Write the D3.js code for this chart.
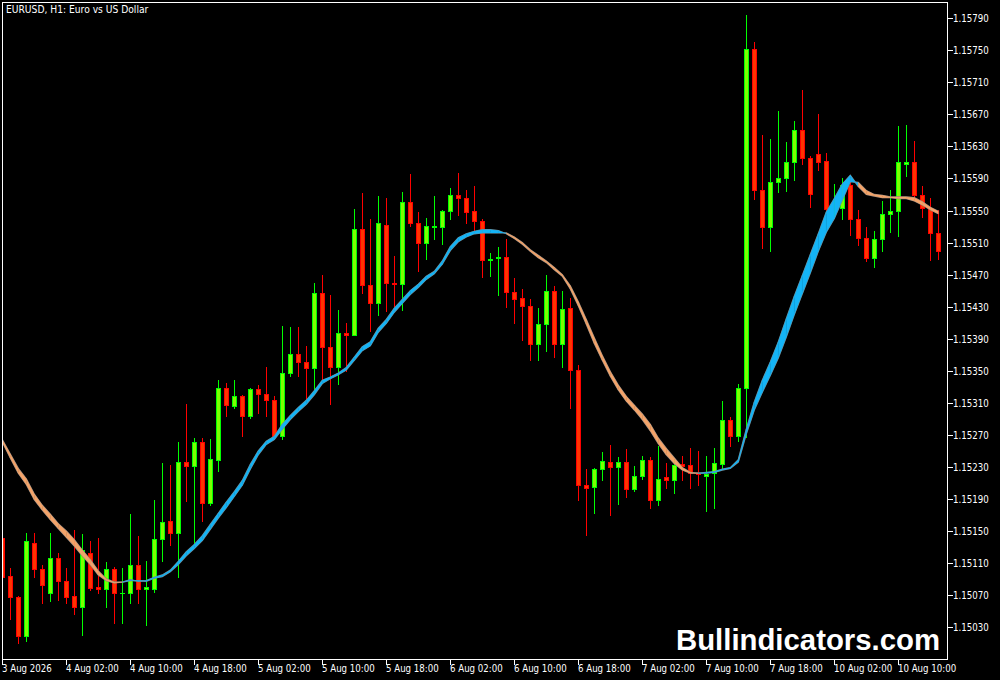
<!DOCTYPE html>
<html><head><meta charset="utf-8">
<script src="https://cdn.jsdelivr.net/npm/d3@7"></script>
<style>html,body{margin:0;padding:0;background:#000;overflow:hidden}svg{display:block}</style>
</head><body><svg id="c" width="1000" height="680"></svg>
<script>
const title = "EURUSD, H1:  Euro vs US Dollar";
const watermark = "Bullindicators.com";

const open = [1.15141,1.15094,1.15068,1.15019,1.15135,1.15102,1.15073,1.15116,1.15087,1.15069,
1.15055,1.15122,1.15080,1.15078,1.15102,1.15072,1.15073,1.15107,1.15077,1.15078,
1.15140,1.15162,1.15147,1.15236,1.15231,1.15261,1.15185,1.15239,1.15328,1.15306,
1.15318,1.15293,1.15327,1.15321,1.15313,1.15269,1.15347,1.15371,1.15361,1.15354,
1.15447,1.15380,1.15355,1.15397,1.15395,1.15527,1.15457,1.15434,1.15532,1.15460,
1.15458,1.15561,1.15534,1.15509,1.15530,1.15530,1.15550,1.15570,1.15566,1.15549,
1.15537,1.15488,1.15491,1.15492,1.15448,1.15441,1.15431,1.15383,1.15408,1.15450,
1.15383,1.15428,1.15351,1.15207,1.15205,1.15227,1.15236,1.15230,1.15236,1.15202,
1.15218,1.15238,1.15189,1.15217,1.15214,1.15233,1.15232,1.15222,1.15219,1.15222,
1.15233,1.15288,1.15268,1.15328,1.15752,1.15576,1.15529,1.15585,1.15590,1.15611,
1.15651,1.15616,1.15620,1.15612,1.15553,1.15553,1.15582,1.15540,1.15516,1.15491,
1.15515,1.15546,1.15550,1.15608,1.15610,1.15570,1.15553,1.15522];

const high = [1.15143,1.15104,1.15069,1.15147,1.15147,1.15108,1.15147,1.15122,1.15104,1.15151,
1.15146,1.15137,1.15141,1.15111,1.15105,1.15104,1.15171,1.15144,1.15112,1.15189,
1.15235,1.15232,1.15261,1.15308,1.15266,1.15266,1.15265,1.15339,1.15335,1.15339,
1.15320,1.15329,1.15332,1.15355,1.15318,1.15406,1.15405,1.15404,1.15381,1.15460,
1.15469,1.15445,1.15426,1.15410,1.15552,1.15572,1.15540,1.15568,1.15566,1.15493,
1.15573,1.15596,1.15548,1.15541,1.15568,1.15551,1.15578,1.15597,1.15576,1.15581,
1.15540,1.15497,1.15505,1.15515,1.15466,1.15452,1.15440,1.15428,1.15470,1.15456,
1.15450,1.15441,1.15357,1.15227,1.15228,1.15249,1.15257,1.15242,1.15252,1.15231,
1.15243,1.15242,1.15256,1.15235,1.15238,1.15243,1.15253,1.15250,1.15243,1.15253,
1.15312,1.15292,1.15333,1.15794,1.15760,1.15644,1.15639,1.15674,1.15636,1.15662,
1.15701,1.15618,1.15671,1.15622,1.15583,1.15591,1.15590,1.15551,1.15530,1.15525,
1.15562,1.15576,1.15656,1.15657,1.15637,1.15581,1.15566,1.15551];

const low = [1.15090,1.15040,1.15010,1.15012,1.15092,1.15060,1.15062,1.15064,1.15060,1.15046,
1.15020,1.15076,1.15073,1.15055,1.15035,1.15035,1.15060,1.15060,1.15032,1.15074,
1.15113,1.15132,1.15092,1.15187,1.15132,1.15162,1.15182,1.15225,1.15293,1.15303,
1.15268,1.15291,1.15297,1.15294,1.15266,1.15265,1.15344,1.15344,1.15315,1.15322,
1.15338,1.15309,1.15333,1.15350,1.15394,1.15447,1.15399,1.15420,1.15425,1.15426,
1.15426,1.15531,1.15474,1.15489,1.15514,1.15508,1.15539,1.15544,1.15534,1.15523,
1.15467,1.15468,1.15444,1.15429,1.15409,1.15388,1.15363,1.15363,1.15375,1.15367,
1.15355,1.15303,1.15189,1.15145,1.15172,1.15213,1.15170,1.15184,1.15192,1.15200,
1.15215,1.15178,1.15182,1.15204,1.15197,1.15213,1.15204,1.15207,1.15175,1.15179,
1.15227,1.15256,1.15262,1.15267,1.15565,1.15503,1.15499,1.15573,1.15574,1.15588,
1.15608,1.15554,1.15600,1.15547,1.15542,1.15539,1.15519,1.15507,1.15487,1.15479,
1.15499,1.15523,1.15518,1.15593,1.15567,1.15542,1.15488,1.15490];

const close = [1.15092,1.15067,1.15019,1.15137,1.15102,1.15082,1.15116,1.15087,1.15067,1.15055,
1.15126,1.15079,1.15078,1.15102,1.15072,1.15073,1.15107,1.15077,1.15080,1.15140,
1.15161,1.15147,1.15236,1.15231,1.15261,1.15185,1.15240,1.15328,1.15307,1.15318,
1.15293,1.15327,1.15321,1.15313,1.15268,1.15347,1.15371,1.15361,1.15354,1.15447,
1.15379,1.15355,1.15397,1.15394,1.15527,1.15457,1.15434,1.15535,1.15460,1.15458,
1.15561,1.15534,1.15509,1.15531,1.15531,1.15550,1.15570,1.15566,1.15548,1.15537,
1.15488,1.15490,1.15492,1.15448,1.15439,1.15431,1.15383,1.15408,1.15450,1.15383,
1.15427,1.15351,1.15207,1.15204,1.15227,1.15237,1.15230,1.15236,1.15202,1.15218,
1.15238,1.15189,1.15215,1.15214,1.15232,1.15231,1.15222,1.15221,1.15221,1.15235,
1.15288,1.15268,1.15328,1.15752,1.15576,1.15529,1.15585,1.15590,1.15611,1.15651,
1.15616,1.15571,1.15611,1.15552,1.15554,1.15582,1.15540,1.15516,1.15491,1.15515,
1.15546,1.15550,1.15610,1.15610,1.15570,1.15553,1.15522,1.15500];

const fastLine = [1.15261,1.15241,1.15222,1.15208,1.15189,1.15176,1.15164,1.15153,1.15142,1.15131,
1.15119,1.15108,1.15095,1.15088,1.15085,1.15086,1.15089,1.15087,1.15088,1.15092,
1.15095,1.15101,1.15112,1.15124,1.15133,1.15144,1.15158,1.15172,1.15186,1.15199,
1.15213,1.15233,1.15250,1.15262,1.15268,1.15283,1.15294,1.15304,1.15313,1.15325,
1.15338,1.15342,1.15347,1.15354,1.15367,1.15380,1.15386,1.15403,1.15414,1.15428,
1.15439,1.15450,1.15458,1.15468,1.15474,1.15487,1.15505,1.15516,1.15521,1.15524,
1.15526,1.15526,1.15525,1.15521,1.15515,1.15508,1.15499,1.15491,1.15485,1.15476,
1.15468,1.15452,1.15431,1.15408,1.15384,1.15363,1.15343,1.15326,1.15312,1.15301,
1.15289,1.15275,1.15259,1.15245,1.15234,1.15226,1.15222,1.15222,1.15223,1.15224,
1.15227,1.15229,1.15239,1.15277,1.15311,1.15338,1.15361,1.15386,1.15415,1.15443,
1.15469,1.15495,1.15521,1.15548,1.15565,1.15583,1.15594,1.15580,1.15570,1.15568,
1.15566,1.15566,1.15565,1.15565,1.15562,1.15557,1.15551,1.15546];

const slowLine = [1.15264,1.15246,1.15228,1.15215,1.15196,1.15182,1.15171,1.15159,1.15150,1.15139,
1.15126,1.15114,1.15100,1.15090,1.15086,1.15086,1.15088,1.15088,1.15087,1.15091,
1.15093,1.15099,1.15108,1.15119,1.15128,1.15138,1.15152,1.15166,1.15179,1.15193,
1.15207,1.15227,1.15245,1.15258,1.15264,1.15277,1.15289,1.15299,1.15308,1.15320,
1.15334,1.15340,1.15345,1.15351,1.15363,1.15375,1.15381,1.15398,1.15409,1.15423,
1.15434,1.15445,1.15454,1.15464,1.15471,1.15483,1.15500,1.15511,1.15517,1.15521,
1.15522,1.15522,1.15522,1.15522,1.15517,1.15510,1.15501,1.15494,1.15487,1.15479,
1.15470,1.15456,1.15436,1.15414,1.15391,1.15369,1.15349,1.15332,1.15318,1.15307,
1.15296,1.15283,1.15266,1.15253,1.15241,1.15229,1.15223,1.15222,1.15222,1.15223,
1.15226,1.15228,1.15236,1.15271,1.15301,1.15323,1.15344,1.15366,1.15392,1.15420,
1.15446,1.15472,1.15499,1.15523,1.15540,1.15563,1.15586,1.15585,1.15575,1.15570,
1.15569,1.15567,1.15567,1.15567,1.15566,1.15561,1.15554,1.15549];

const timeTickBars = [0,8,16,24,32,40,48,56,64,72,80,88,96,104,112];
const timeTickLabels = ["3 Aug 2026","4 Aug 02:00","4 Aug 10:00","4 Aug 18:00","5 Aug 02:00",
"5 Aug 10:00","5 Aug 18:00","6 Aug 02:00","6 Aug 10:00","6 Aug 18:00","7 Aug 02:00",
"7 Aug 10:00","7 Aug 18:00","10 Aug 02:00","10 Aug 10:00"];
const priceTicks = [1.15790,1.15750,1.15710,1.15670,1.15630,1.15590,1.15550,1.15510,1.15470,
1.15430,1.15390,1.15350,1.15310,1.15270,1.15230,1.15190,1.15150,1.15110,1.15070,1.15030];

const svg = d3.select("#c");
const FONT = "'DejaVu Sans Condensed','DejaVu Sans',sans-serif";
const L = 2.5, R = 947.5, T = 2.5, B = 659.5;

const x = d3.scaleLinear().domain([0, open.length - 1]).range([2.3, 2.3 + 8 * (open.length - 1)]);
const y = d3.scaleLinear().domain([1.15030, 1.15790]).range([627, 18.3]);

svg.append("rect").attr("width", 1000).attr("height", 680).attr("fill", "#000");
svg.append("defs").append("clipPath").attr("id", "clip")
  .append("rect").attr("x", 3).attr("y", 3).attr("width", R - 3.5).attr("height", B - 3.5);

// candles
const gC = svg.append("g").attr("clip-path", "url(#clip)").attr("shape-rendering", "crispEdges");
const bars = d3.range(open.length).map(i => ({i, o: open[i], h: high[i], l: low[i], c: close[i]}));
bars.forEach(d => {
  const bull = d.c >= d.o;
  const edge = bull ? "#00ff00" : "#ff0000";
  const fill = bull ? "#7cff00" : "#ff3300";
  const cx = Math.floor(x(d.i));
  const yh = Math.round(y(d.h)), yl = Math.round(y(d.l));
  const yt = Math.round(y(Math.max(d.o, d.c))), yb = Math.round(y(Math.min(d.o, d.c)));
  gC.append("rect").attr("x", cx).attr("y", yh).attr("width", 1).attr("height", Math.max(1, yl - yh + 1)).attr("fill", edge);
  const bh = Math.max(1, yb - yt + 1);
  gC.append("rect").attr("x", cx - 2).attr("y", yt).attr("width", 5).attr("height", bh).attr("fill", edge);
  if (bh > 2) gC.append("rect").attr("x", cx - 1).attr("y", yt + 1).attr("width", 3).attr("height", bh - 2).attr("fill", fill);
});

// indicator band
const gB = svg.append("g").attr("clip-path", "url(#clip)");
const lineGen = d3.line().x((d, i) => x(i)).y(d => y(d));
gB.append("path").attr("d", lineGen(fastLine)).attr("fill", "none").attr("stroke", "#7f7f7f").attr("stroke-width", 1.3);
gB.append("path").attr("d", lineGen(slowLine)).attr("fill", "none").attr("stroke", "#7f7f7f").attr("stroke-width", 1.3);
const poly = d3.line();
for (let i = 0; i < fastLine.length - 1; i++) {
  const up = (fastLine[i] + fastLine[i + 1]) >= (slowLine[i] + slowLine[i + 1]);
  const col = up ? "#14b4f6" : "#f4a46a";
  const pts = [[x(i), y(fastLine[i])], [x(i + 1), y(fastLine[i + 1])], [x(i + 1), y(slowLine[i + 1])], [x(i), y(slowLine[i])]];
  gB.append("path").attr("d", poly(pts) + "Z").attr("fill", col).attr("stroke", col).attr("stroke-width", 0.4);
}

// frame
svg.append("rect").attr("x", L).attr("y", T).attr("width", R - L).attr("height", B - T)
  .attr("fill", "none").attr("stroke", "#fff").attr("stroke-width", 1).attr("shape-rendering", "crispEdges");

// price axis
const gP = svg.append("g").attr("shape-rendering", "crispEdges");
priceTicks.forEach(p => {
  const yy = Math.round(y(p)) + 0.5;
  gP.append("line").attr("x1", R).attr("x2", R + 5).attr("y1", yy).attr("y2", yy).attr("stroke", "#fff");
  svg.append("text").attr("x", 953).attr("y", yy + 3.5).attr("fill", "#fff")
    .attr("font-family", FONT).attr("font-size", 9.6).text(d3.format(".5f")(p));
});

// time axis
timeTickBars.forEach((b, k) => {
  const xx = Math.floor(x(b)) + 0.5;
  gP.append("line").attr("x1", xx).attr("x2", xx).attr("y1", B).attr("y2", B + 5).attr("stroke", "#fff");
  svg.append("text").attr("x", Math.floor(x(b))).attr("y", 672).attr("fill", "#fff")
    .attr("font-family", FONT).attr("font-size", 9.6).text(timeTickLabels[k]);
});

// title
svg.append("text").attr("x", 6).attr("y", 13).attr("fill", "#fff")
  .attr("font-family", FONT).attr("font-size", 10.2).text(title);

// watermark
svg.append("text").attr("x", 676).attr("y", 650).attr("fill", "#fff")
  .attr("font-family", "'Liberation Sans',Arial,sans-serif").attr("font-weight", "bold")
  .attr("font-size", 30).attr("textLength", 264).attr("lengthAdjust", "spacingAndGlyphs").text(watermark);
</script>
</body></html>
